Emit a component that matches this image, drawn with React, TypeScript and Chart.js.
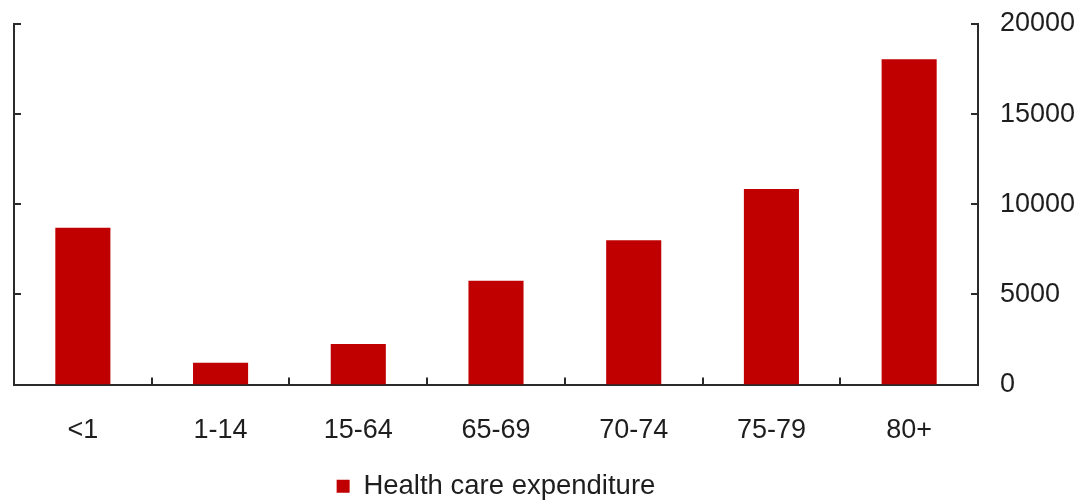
import React, { useEffect, useRef } from "react";
import { Chart, registerables } from "chart.js";

Chart.register(...registerables);

const categories = ["<1", "1-14", "15-64", "65-69", "70-74", "75-79", "80+"];
const expenditure = [8700, 1200, 2250, 5750, 8000, 10850, 18050];
const seriesLabel = "Health care expenditure";
const yTicks = [0, 5000, 10000, 15000, 20000];

const FONT = "'Liberation Sans', Arial, sans-serif";
const AXIS_COLOR = "#2a2a2a";
const TEXT_COLOR = "#1e1e1e";
const BAR_COLOR = "#C00000";

const inwardTicks = {
  id: "inwardTicks",
  afterDraw(chart: any) {
    const { ctx, chartArea, scales } = chart;
    const x = scales.x;
    const y = scales.y;
    ctx.save();
    ctx.strokeStyle = AXIS_COLOR;
    ctx.lineWidth = 2;
    ctx.beginPath();
    for (const v of yTicks) {
      const py = Math.round(y.getPixelForValue(v));
      ctx.moveTo(chartArea.left, py);
      ctx.lineTo(chartArea.left + 7, py);
      ctx.moveTo(chartArea.right, py);
      ctx.lineTo(chartArea.right - 7, py);
    }
    for (let i = 1; i < categories.length; i++) {
      const px = Math.round(
        (x.getPixelForValue(i - 1) + x.getPixelForValue(i)) / 2
      );
      ctx.moveTo(px, chartArea.bottom);
      ctx.lineTo(px, chartArea.bottom - 7);
    }
    ctx.stroke();
    ctx.restore();
  },
};

export default function App() {
  const ref = useRef<HTMLCanvasElement>(null);

  useEffect(() => {
    if (!ref.current) return;
    const chart = new Chart(ref.current, {
      type: "bar",
      data: {
        labels: categories,
        datasets: [
          {
            label: seriesLabel,
            data: expenditure,
            backgroundColor: BAR_COLOR,
            borderWidth: 0,
            categoryPercentage: 1,
            barPercentage: 0.4,
            yAxisID: "y",
          },
        ],
      },
      options: {
        animation: false,
        responsive: false,
        maintainAspectRatio: false,
        layout: { padding: { top: 24, left: 0, right: 0, bottom: -10 } },
        plugins: {
          tooltip: { enabled: false },
          legend: {
            display: true,
            position: "bottom",
            fullSize: false,
            labels: {
              color: TEXT_COLOR,
              font: { family: FONT, size: 27.5 },
              boxWidth: 13,
              boxHeight: 13,
              padding: 0,
            },
          },
        },
        scales: {
          x: {
            type: "category",
            offset: true,
            grid: { display: false, drawTicks: false },
            border: { display: true, color: AXIS_COLOR, width: 2 },
            ticks: {
              color: TEXT_COLOR,
              font: { family: FONT, size: 27 },
              padding: 30,
              maxRotation: 0,
              autoSkip: false,
            },
            afterFit(scale: any) {
              scale.height = 88;
            },
          },
          y: {
            position: "right",
            min: 0,
            max: 20000,
            grid: { display: false, drawTicks: false },
            border: { display: true, color: AXIS_COLOR, width: 2 },
            ticks: {
              stepSize: 5000,
              color: TEXT_COLOR,
              font: { family: FONT, size: 27 },
              padding: 22,
              callback: (v: any) => String(v),
            },
            afterFit(scale: any) {
              scale.width = 111;
              scale.paddingTop = 0;
              scale.paddingBottom = 0;
            },
          },
          yLeft: {
            position: "left",
            min: 0,
            max: 20000,
            grid: { display: false, drawTicks: false },
            border: { display: true, color: AXIS_COLOR, width: 2 },
            ticks: { display: false, stepSize: 5000 },
            afterFit(scale: any) {
              scale.width = 14;
              scale.paddingTop = 0;
              scale.paddingBottom = 0;
            },
          },
        },
      },
      plugins: [inwardTicks],
    });
    return () => chart.destroy();
  }, []);

  return (
    <div
      style={{
        position: "fixed",
        left: 0,
        top: 0,
        width: 1089,
        height: 500,
        background: "#fff",
      }}
    >
      <canvas ref={ref} width={1089} height={500} />
    </div>
  );
}
